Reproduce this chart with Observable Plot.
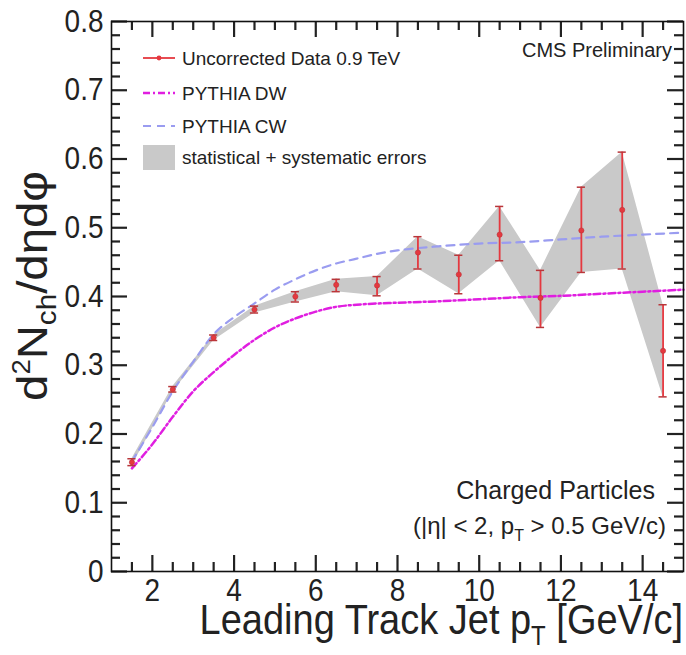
<!DOCTYPE html>
<html>
<head>
<meta charset="utf-8">
<script src="https://cdn.jsdelivr.net/npm/d3@7"></script>
<script src="https://cdn.jsdelivr.net/npm/@observablehq/plot@0.6"></script>
<style>
  html, body { margin: 0; padding: 0; background: #fff; }
  svg { display: block; }
</style>
</head>
<body>
<div id="chart"></div>
<script>
// ---- data ----
const ptBins   = [1.5, 2.5, 3.5, 4.5, 5.5, 6.5, 7.5, 8.5, 9.5, 10.5, 11.5, 12.5, 13.5, 14.5];
const dataVal  = [0.159, 0.265, 0.340, 0.381, 0.400, 0.417, 0.416, 0.464, 0.432, 0.490, 0.398, 0.496, 0.526, 0.321];
const errLow   = [0.154, 0.261, 0.336, 0.376, 0.392, 0.407, 0.401, 0.440, 0.404, 0.452, 0.355, 0.435, 0.440, 0.254];
const errHigh  = [0.164, 0.269, 0.344, 0.386, 0.407, 0.425, 0.429, 0.487, 0.460, 0.531, 0.438, 0.559, 0.610, 0.388];

const dwX = [1.5, 2, 2.5, 3, 3.5, 4, 4.5, 5, 5.5, 6, 6.5, 7, 8, 9, 10, 11, 12, 13, 14, 15];
const dwY = [0.150, 0.185, 0.225, 0.262, 0.290, 0.315, 0.337, 0.355, 0.368, 0.378, 0.385, 0.388, 0.391, 0.393, 0.396, 0.399, 0.401, 0.404, 0.407, 0.410];

const cwX = [1.5, 2, 2.5, 3, 3.5, 4, 4.5, 5, 5.5, 6, 6.5, 7, 7.5, 8, 9, 10, 11, 12, 13, 14, 15];
const cwY = [0.160, 0.210, 0.262, 0.305, 0.345, 0.370, 0.390, 0.410, 0.425, 0.438, 0.448, 0.455, 0.462, 0.467, 0.473, 0.477, 0.479, 0.483, 0.487, 0.490, 0.493];

const xMajorTicks = [2, 4, 6, 8, 10, 12, 14];
const xMinorTicks = [1.5, 2.5, 3, 3.5, 4.5, 5, 5.5, 6.5, 7, 7.5, 8.5, 9, 9.5, 10.5, 11, 11.5, 12.5, 13, 13.5, 14.5];
const yMajorTicks = [0, 0.1, 0.2, 0.3, 0.4, 0.5, 0.6, 0.7, 0.8];
const yMinorTicks = [0.02, 0.04, 0.06, 0.08, 0.12, 0.14, 0.16, 0.18, 0.22, 0.24, 0.26, 0.28, 0.32, 0.34, 0.36, 0.38,
                     0.42, 0.44, 0.46, 0.48, 0.52, 0.54, 0.56, 0.58, 0.62, 0.64, 0.66, 0.68, 0.72, 0.74, 0.76, 0.78];

const legendLabels = ["Uncorrected Data 0.9 TeV", "PYTHIA DW", "PYTHIA CW", "statistical + systematic errors"];

// ---- styles ----
const RED = "#e5383f";
const CAP = "#b8363a";
const DW = "#e01ee0";
const CWC = "#9a9cf0";
const BAND = "#c9c9c9";
const FONT = "'Liberation Sans', Arial, Helvetica, sans-serif";
const capHalf = 0.1;

const W = 686, H = 655, ML = 111, MR = 3, MT = 21, MB = 84;
const PW = W - ML - MR, PH = H - MT - MB;
const MAJ = 16, MIN = 9;  // tick lengths in pixels
const VSTRETCH = 1.12;
const TK = "#222", TW = 2.2;

const points = ptBins.map((x, i) => ({x, y: dataVal[i], lo: errLow[i], hi: errHigh[i]}));
const dw = dwX.map((x, i) => ({x, y: dwY[i]}));
const cw = cwX.map((x, i) => ({x, y: cwY[i]}));

const chart = Plot.plot({
  width: W,
  height: H,
  marginLeft: ML,
  marginRight: MR,
  marginTop: MT,
  marginBottom: MB,
  style: {fontFamily: FONT, fontSize: "28px"},
  x: {domain: [1, 15], label: null},
  y: {domain: [0, 0.8], label: null},
  marks: [
    Plot.areaY(points, {x: "x", y1: "lo", y2: "hi", fill: BAND}),
    Plot.line(cw, {x: "x", y: "y", stroke: CWC, strokeWidth: 2.2, strokeDasharray: "8,6", curve: "monotone-x"}),
    Plot.line(dw, {x: "x", y: "y", stroke: DW, strokeWidth: 2.5, strokeDasharray: "7,3,2,3", curve: "monotone-x"}),
    Plot.ruleX(points, {x: "x", y1: "lo", y2: "hi", stroke: RED, strokeWidth: 1.8}),
    Plot.ruleY(points, {y: "lo", x1: d => d.x - capHalf, x2: d => d.x + capHalf, stroke: CAP, strokeWidth: 1.5}),
    Plot.ruleY(points, {y: "hi", x1: d => d.x - capHalf, x2: d => d.x + capHalf, stroke: CAP, strokeWidth: 1.5}),
    Plot.dot(points, {x: "x", y: "y", r: 2.6, fill: RED, stroke: CAP, strokeWidth: 0.6}),
    // inward ticks on all four sides (ROOT style)
    Plot.ruleX(xMajorTicks, {x: d => d, insetTop: PH - MAJ, stroke: TK, strokeWidth: TW}),
    Plot.ruleX(xMinorTicks, {x: d => d, insetTop: PH - MIN, stroke: TK, strokeWidth: TW}),
    Plot.ruleX(xMajorTicks, {x: d => d, insetBottom: PH - MAJ, stroke: TK, strokeWidth: TW}),
    Plot.ruleX(xMinorTicks, {x: d => d, insetBottom: PH - MIN, stroke: TK, strokeWidth: TW}),
    Plot.ruleY(yMajorTicks, {y: d => d, insetRight: PW - MAJ, stroke: TK, strokeWidth: TW}),
    Plot.ruleY(yMinorTicks, {y: d => d, insetRight: PW - MIN, stroke: TK, strokeWidth: TW}),
    Plot.ruleY(yMajorTicks, {y: d => d, insetLeft: PW - MAJ, stroke: TK, strokeWidth: TW}),
    Plot.ruleY(yMinorTicks, {y: d => d, insetLeft: PW - MIN, stroke: TK, strokeWidth: TW}),
    // tick labels
    Plot.axisX({ticks: xMajorTicks, tickSize: 0, tickPadding: 7, anchor: "bottom", label: null, fill: "#222"}),
    Plot.axisY({ticks: yMajorTicks, tickSize: 0, tickPadding: 8, anchor: "left", label: null, fill: "#222", tickFormat: d => d === 0 ? "0" : d3.format(".1f")(d)}),
    Plot.frame({stroke: "#111", strokeWidth: 1.6})
  ]
});

document.getElementById("chart").appendChild(chart);

const svg = d3.select(chart);

// slight vertical stretch of tick labels (as in the reference rendering)
svg.selectAll("g[aria-label$='tick label'] text").each(function () {
  const t = this.getAttribute("transform") || "";
  this.setAttribute("transform", t + ` scale(1,${VSTRETCH})`);
});

// ---- annotations, titles, legend ----
const g = svg.append("g").attr("font-family", FONT).attr("fill", "#222").attr("text-anchor", "start");

// x axis title
const xtt = g.append("text").attr("transform", `translate(683,634) scale(1,${VSTRETCH})`).attr("text-anchor", "end").attr("font-size", 38);
xtt.append("tspan").text("Leading Track Jet p");
xtt.append("tspan").attr("font-size", 24).attr("dy", 10).text("T");
xtt.append("tspan").attr("dy", -10).text(" [GeV/c]");

// y axis title
const ytt = g.append("text").attr("transform", "translate(47,286) rotate(-90) scale(1.1,1)").attr("text-anchor", "middle").attr("font-size", 43);
ytt.append("tspan").text("d");
ytt.append("tspan").attr("font-size", 25).attr("dy", -17).text("2");
ytt.append("tspan").attr("dy", 17).text("N");
ytt.append("tspan").attr("font-size", 27).attr("dy", 9).text("ch");
ytt.append("tspan").attr("dy", -9).text("/dηdφ");

// CMS Preliminary
g.append("text").attr("x", 672).attr("y", 57).attr("text-anchor", "end").attr("font-size", 20).text("CMS Preliminary");

// Charged particles
g.append("text").attr("x", 655).attr("y", 499).attr("text-anchor", "end").attr("font-size", 25).text("Charged Particles");
const cp = g.append("text").attr("x", 666).attr("y", 534).attr("text-anchor", "end").attr("font-size", 24);
cp.append("tspan").text("(|η| < 2, p");
cp.append("tspan").attr("font-size", 16).attr("dy", 7).text("T");
cp.append("tspan").attr("dy", -7).text(" > 0.5 GeV/c)");

// legend
const lx0 = 143, lx1 = 175, ltx = 182;
const ly = [58, 93, 126, 157];
const lg = g.append("g");
lg.append("line").attr("x1", lx0).attr("x2", lx1).attr("y1", ly[0]).attr("y2", ly[0]).attr("stroke", RED).attr("stroke-width", 1.8);
lg.append("circle").attr("cx", (lx0 + lx1) / 2).attr("cy", ly[0]).attr("r", 2.4).attr("fill", RED);
lg.append("line").attr("x1", lx0).attr("x2", lx1).attr("y1", ly[1]).attr("y2", ly[1]).attr("stroke", DW).attr("stroke-width", 2.5).attr("stroke-dasharray", "7,3,2,3");
lg.append("line").attr("x1", lx0).attr("x2", lx1).attr("y1", ly[2]).attr("y2", ly[2]).attr("stroke", CWC).attr("stroke-width", 2.2).attr("stroke-dasharray", "8,6");
lg.append("rect").attr("x", lx0).attr("y", ly[3] - 12).attr("width", lx1 - lx0).attr("height", 25).attr("fill", BAND);
legendLabels.forEach((t, i) => {
  lg.append("text").attr("x", ltx).attr("y", ly[i]).attr("dy", "0.36em").attr("text-anchor", "start").attr("font-size", 19).text(t);
});
</script>
</body>
</html>
